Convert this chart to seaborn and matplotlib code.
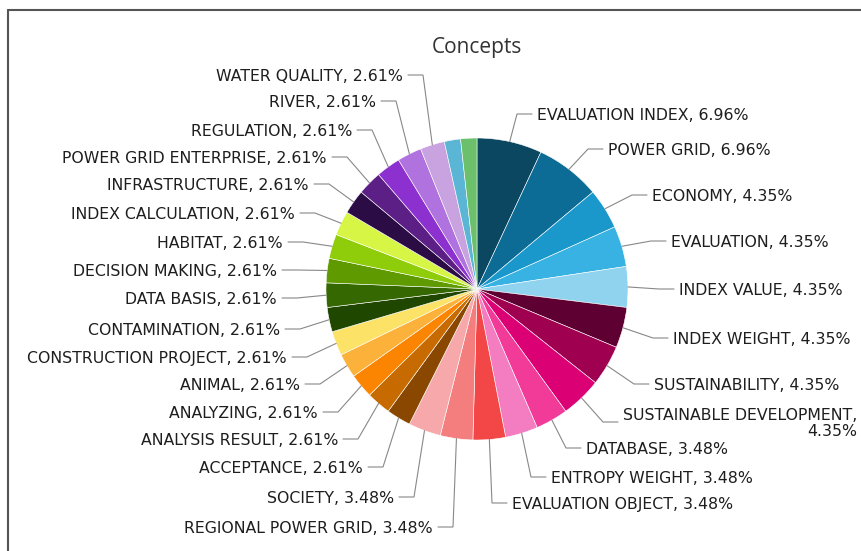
import math

import matplotlib
matplotlib.use("Agg")
import matplotlib.pyplot as plt
from matplotlib.lines import Line2D
import seaborn as sns

# Concept shares (percent of all concept mentions), clockwise from 12 o'clock
concepts = [
    "EVALUATION INDEX", "POWER GRID", "ECONOMY", "EVALUATION", "INDEX VALUE",
    "INDEX WEIGHT", "SUSTAINABILITY", "SUSTAINABLE DEVELOPMENT", "DATABASE",
    "ENTROPY WEIGHT", "EVALUATION OBJECT", "REGIONAL POWER GRID", "SOCIETY",
    "ACCEPTANCE", "ANALYSIS RESULT", "ANALYZING", "ANIMAL",
    "CONSTRUCTION PROJECT", "CONTAMINATION", "DATA BASIS", "DECISION MAKING",
    "HABITAT", "INDEX CALCULATION", "INFRASTRUCTURE", "POWER GRID ENTERPRISE",
    "REGULATION", "RIVER", "WATER QUALITY", None, None,
]
shares = [
    6.96, 6.96, 4.35, 4.35, 4.35,
    4.35, 4.35, 4.35, 3.48,
    3.48, 3.48, 3.48, 3.48,
    2.61, 2.61, 2.61, 2.61,
    2.61, 2.61, 2.61, 2.61,
    2.61, 2.61, 2.61, 2.61,
    2.61, 2.61, 2.61, 1.74, 1.74,
]
slice_colors = [
    "#0b4761", "#0c6c95", "#1a98cc", "#38b2e3", "#8fd3ef",
    "#5e0132", "#9f004f", "#dc0075", "#f23b99",
    "#f47cc1", "#f34647", "#f47e7e", "#f7a8ab",
    "#8a4700", "#c76a00", "#fb8500", "#fcb23a",
    "#fce266", "#1f4700", "#356800", "#5e9a00",
    "#8fcc0a", "#d6f545", "#2b0c45", "#5b1f85",
    "#8c31cf", "#b072de", "#c9a2e0", "#5bb5d5", "#6cbf6b",
]

# Label anchor points in pixels from the top-left corner (text edge next to the connector)
label_anchor = [
    (537, 114), (608, 149), (652, 195), (671, 241), (679, 289),
    (673, 338), (654, 384), (623, 422), (586, 448),
    (551, 477), (512, 503), (433, 527), (394, 497),
    (363, 467), (338, 439), (318, 412), (300, 384),
    (287, 357), (280, 329), (277, 298), (277, 270),
    (283, 242), (295, 213), (309, 184), (327, 157),
    (352, 130), (376, 101), (403, 75), None, None,
]

W, H = 862, 551
CX, CY, R = 477, 289, 151

sns.set_theme(style="white")
plt.rcParams["font.family"] = ["DejaVu Sans"]

fig = plt.figure(figsize=(W / 100, H / 100), dpi=100)
fig.patch.set_facecolor("white")
ax = fig.add_axes([0, 0, 1, 1])

wedges, _ = ax.pie(
    shares, colors=slice_colors, startangle=90, counterclock=False,
    center=(CX, H - CY), radius=R,
    wedgeprops=dict(edgecolor="white", linewidth=0.4),
)
ax.set_xlim(0, W)
ax.set_ylim(0, H)
ax.set_aspect("auto")
ax.axis("off")

renderer = fig.canvas.get_renderer()
line_color = "#888888"
text_color = "#1e1e1e"

for wedge, name, value, anchor in zip(wedges, concepts, shares, label_anchor):
    if name is None:
        continue
    ang = math.radians((wedge.theta1 + wedge.theta2) / 2)
    ex = CX + R * math.cos(ang)
    ey = (H - CY) + R * math.sin(ang)
    tx, ty = anchor[0], H - anchor[1]
    right = math.cos(ang) > 0
    sign = 1 if right else -1
    elbow_x = tx - sign * 20
    end_x = tx - sign * 5
    # connector: slice edge -> elbow -> short horizontal run to the label
    ax.plot([ex, elbow_x, end_x], [ey, ty, ty], color=line_color, lw=0.8,
            solid_joinstyle="miter", zorder=1)
    label = f"{name}, {value:.2f}%"
    t = ax.text(tx, ty, label, ha="left" if right else "right",
                va="center_baseline", fontsize=11.3, color=text_color)
    bb = t.get_window_extent(renderer=renderer)
    if right and bb.x1 > W - 6:
        t.set_text(f"{name},\n{value:.2f}%")
        t.set_multialignment("right")
        t.set_linespacing(1.05)

fig.text(CX / W, 1 - 45 / H, "Concepts", ha="center", va="center_baseline",
         fontsize=15, family="Open Sans", color="#333333")

# Panel border along the top and left edges
fig.add_artist(Line2D([8 / W, 1], [1 - 10 / H, 1 - 10 / H],
                      transform=fig.transFigure, color="#555555", lw=1.5))
fig.add_artist(Line2D([8 / W, 8 / W], [0, 1 - 10 / H],
                      transform=fig.transFigure, color="#555555", lw=1.5))

fig.savefig("out.png", dpi=100, facecolor="white")
